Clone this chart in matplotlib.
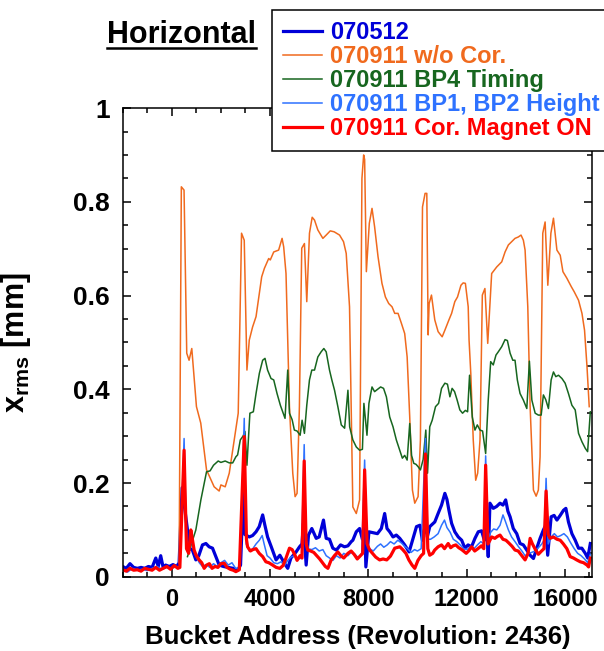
import matplotlib
matplotlib.use("Agg")
import matplotlib.pyplot as plt
from matplotlib.lines import Line2D
from matplotlib.ticker import MultipleLocator

plt.rcParams['font.family'] = 'Liberation Sans'
plt.rcParams['font.weight'] = 'bold'
plt.rcParams['mathtext.fontset'] = 'custom'
plt.rcParams['mathtext.rm'] = 'Liberation Sans:bold'
plt.rcParams['mathtext.bf'] = 'Liberation Sans:bold'

# --- 070512 (reference run) ---
x_0512 = [-2000, -1850, -1700, -1550, -1400, -1250, -1100, -950, -800, -650, -550, -450, -350, -250,
          -100, 50, 200, 300, 420, 500, 640, 740, 840, 980, 1100, 1250, 1390, 1520, 1660, 1795, 1930,
          2100, 2300, 2500, 2680, 2800, 2920, 2980, 3155, 3290, 3430, 3560, 3700, 3790, 3900, 4050,
          4245, 4400, 4585, 4720, 4850, 5060, 5200, 5300, 5360, 5470, 5565, 5700, 5880, 6000, 6175,
          6285, 6420, 6555, 6700, 6870, 7030, 7170, 7305, 7370, 7510, 7645, 7760, 7850, 7900, 8025,
          8200, 8370, 8530, 8665, 8760, 8870, 9005, 9140, 9280, 9480, 9660, 9800, 9960, 10100, 10200,
          10280, 10340, 10400, 10500, 10705, 10840, 10980, 11115, 11200, 11280, 11390, 11520, 11660,
          11800, 11930, 12060, 12200, 12340, 12475, 12610, 12720, 12800, 12880, 12950, 13085, 13220,
          13360, 13480, 13590, 13680, 13770, 13900, 14040, 14175, 14310, 14450, 14585, 14720, 14855,
          14990, 15125, 15220, 15300, 15440, 15560, 15675, 15810, 15945, 16040, 16145, 16285, 16420,
          16555, 16690, 16830, 16930, 17035]
y_0512 = [0.022, 0.018, 0.028, 0.020, 0.018, 0.020, 0.018, 0.022, 0.020, 0.040, 0.022, 0.045, 0.020, 0.025,
          0.022, 0.026, 0.022, 0.030, 0.190, 0.157, 0.100, 0.060, 0.057, 0.036, 0.045, 0.068, 0.071, 0.064,
          0.061, 0.043, 0.025, 0.022, 0.020, 0.018, 0.014, 0.025, 0.190, 0.090, 0.085, 0.088, 0.096, 0.107,
          0.132, 0.110, 0.085, 0.064, 0.036, 0.046, 0.029, 0.018, 0.040, 0.053, 0.064, 0.070, 0.114, 0.025,
          0.089, 0.103, 0.082, 0.085, 0.121, 0.082, 0.080, 0.061, 0.057, 0.068, 0.064, 0.066, 0.075, 0.078,
          0.096, 0.103, 0.080, 0.120, 0.021, 0.096, 0.094, 0.092, 0.103, 0.135, 0.103, 0.096, 0.085, 0.089,
          0.082, 0.068, 0.053, 0.078, 0.107, 0.110, 0.078, 0.100, 0.120, 0.085, 0.107, 0.117, 0.135, 0.153,
          0.178, 0.165, 0.142, 0.114, 0.096, 0.085, 0.078, 0.061, 0.068, 0.064, 0.082, 0.096, 0.098, 0.078,
          0.120, 0.043, 0.157, 0.146, 0.150, 0.157, 0.153, 0.164, 0.140, 0.128, 0.103, 0.092, 0.071, 0.068,
          0.057, 0.046, 0.039, 0.061, 0.082, 0.100, 0.110, 0.046, 0.128, 0.131, 0.121, 0.131, 0.142, 0.146,
          0.117, 0.092, 0.078, 0.061, 0.061, 0.050, 0.040, 0.071]

# --- 070911 without correction ---
x_wo = [300, 390, 500, 610, 705, 815, 1005, 1180, 1415, 1725, 1930, 2000, 2175, 2340, 2540, 2705, 2840,
        2950, 3060, 3155, 3290, 3430, 3565, 3660, 3770, 3945, 4010, 4150, 4350, 4490, 4555, 4650, 4790,
        4925, 5020, 5100, 5195, 5290, 5400, 5495, 5605, 5715, 5810, 5945, 6150, 6285, 6450, 6610, 6830,
        6990, 7100, 7235, 7370, 7510, 7645, 7740, 7810, 7850, 7920, 8040, 8150, 8255, 8395, 8555, 8695,
        8830, 8965, 9075, 9210, 9345, 9480, 9580, 9685, 9795, 9890, 10025, 10120, 10205, 10310, 10380,
        10435, 10475, 10570, 10705, 10840, 11005, 11115, 11280, 11390, 11520, 11630, 11770, 11860, 11950,
        12065, 12100, 12170, 12270, 12370, 12450, 12545, 12640, 12745, 12860, 13020, 13225, 13430, 13565,
        13700, 13835, 13970, 14105, 14215, 14310, 14380, 14490, 14585, 14720, 14830, 14920, 14990, 15100,
        15195, 15305, 15430, 15535, 15675, 15810, 15920, 16080, 16260, 16380, 16555, 16695, 16800, 16900,
        16990]
y_wo = [0.030, 0.832, 0.825, 0.477, 0.462, 0.487, 0.363, 0.328, 0.228, 0.192, 0.183, 0.196, 0.192, 0.221,
        0.292, 0.349, 0.733, 0.718, 0.441, 0.505, 0.533, 0.555, 0.605, 0.640, 0.658, 0.679, 0.676, 0.693,
        0.697, 0.722, 0.704, 0.647, 0.363, 0.221, 0.171, 0.178, 0.363, 0.701, 0.711, 0.587, 0.733, 0.767,
        0.761, 0.740, 0.722, 0.729, 0.738, 0.736, 0.729, 0.715, 0.690, 0.576, 0.149, 0.135, 0.164, 0.850,
        0.900, 0.890, 0.651, 0.754, 0.786, 0.747, 0.683, 0.626, 0.597, 0.583, 0.576, 0.562, 0.562, 0.541,
        0.519, 0.469, 0.341, 0.185, 0.157, 0.171, 0.292, 0.789, 0.818, 0.818, 0.516, 0.583, 0.601, 0.548,
        0.523, 0.512, 0.526, 0.548, 0.562, 0.587, 0.597, 0.622, 0.627, 0.626, 0.576, 0.505, 0.434, 0.292,
        0.206, 0.221, 0.292, 0.601, 0.615, 0.498, 0.647, 0.661, 0.672, 0.693, 0.708, 0.715, 0.722, 0.725,
        0.729, 0.718, 0.697, 0.576, 0.363, 0.185, 0.172, 0.185, 0.256, 0.733, 0.757, 0.622, 0.733, 0.765,
        0.697, 0.686, 0.651, 0.637, 0.619, 0.608, 0.590, 0.562, 0.526, 0.448, 0.363]

# --- 070911 BP4 timing ---
x_bp4 = [640, 980, 1185, 1415, 1560, 1700, 1890, 2000, 2175, 2340, 2480, 2610, 2680, 2790, 2900, 2980,
         3060, 3180, 3320, 3430, 3565, 3700, 3795, 3900, 4040, 4150, 4285, 4420, 4515, 4610, 4720, 4790,
         4900, 4990, 5100, 5225, 5305, 5400, 5495, 5605, 5700, 5810, 5945, 6080, 6190, 6285, 6420, 6515,
         6625, 6760, 6900, 7035, 7170, 7240, 7370, 7510, 7645, 7760, 7820, 7945, 8025, 8150, 8255, 8380,
         8500, 8620, 8735, 8870, 9005, 9140, 9280, 9385, 9480, 9580, 9685, 9760, 9850, 9940, 10025, 10120,
         10230, 10340, 10410, 10500, 10600, 10735, 10860, 10980, 11115, 11220, 11320, 11410, 11510, 11615,
         11725, 11835, 11950, 12040, 12120, 12230, 12340, 12435, 12545, 12650, 12775, 12880, 12980, 13085,
         13195, 13290, 13430, 13565, 13660, 13770, 13880, 13970, 14065, 14175, 14310, 14450, 14555, 14655,
         14790, 14920, 15035, 15125, 15220, 15330, 15440, 15535, 15630, 15740, 15880, 16010, 16145, 16285,
         16420, 16555, 16695, 16830, 16925, 17035]
y_bp4 = [0.043, 0.100, 0.164, 0.224, 0.226, 0.238, 0.247, 0.244, 0.247, 0.243, 0.243, 0.256, 0.260, 0.292,
         0.300, 0.310, 0.238, 0.349, 0.352, 0.391, 0.434, 0.462, 0.466, 0.441, 0.423, 0.420, 0.391, 0.366,
         0.352, 0.338, 0.441, 0.349, 0.335, 0.313, 0.311, 0.302, 0.334, 0.306, 0.366, 0.420, 0.441, 0.441,
         0.469, 0.480, 0.487, 0.480, 0.441, 0.420, 0.398, 0.363, 0.324, 0.317, 0.398, 0.320, 0.292, 0.277,
         0.270, 0.272, 0.370, 0.302, 0.370, 0.405, 0.395, 0.400, 0.405, 0.402, 0.384, 0.341, 0.320, 0.292,
         0.270, 0.253, 0.259, 0.249, 0.327, 0.259, 0.242, 0.240, 0.235, 0.228, 0.250, 0.313, 0.221, 0.320,
         0.334, 0.363, 0.370, 0.402, 0.413, 0.411, 0.384, 0.402, 0.395, 0.377, 0.356, 0.349, 0.355, 0.352,
         0.430, 0.341, 0.313, 0.324, 0.313, 0.311, 0.263, 0.377, 0.459, 0.452, 0.473, 0.480, 0.491, 0.506,
         0.504, 0.477, 0.462, 0.462, 0.420, 0.391, 0.377, 0.359, 0.460, 0.377, 0.349, 0.345, 0.345, 0.388,
         0.378, 0.359, 0.420, 0.437, 0.427, 0.430, 0.423, 0.413, 0.391, 0.366, 0.356, 0.306, 0.288, 0.274,
         0.267, 0.352]

# --- 070911 BP1, BP2 height ---
x_bp12 = [-2000, -1800, -1600, -1400, -1200, -1000, -800, -600, -400, -200, 0, 200, 330, 502, 580, 640,
          750, 840, 980, 1120, 1250, 1400, 1550, 1700, 1850, 2000, 2150, 2300, 2450, 2600, 2780, 2950,
          3030, 3155, 3300, 3430, 3565, 3680, 3760, 3880, 4000, 4150, 4300, 4450, 4585, 4720, 4850, 5000,
          5150, 5280, 5390, 5460, 5550, 5700, 5850, 6000, 6150, 6285, 6420, 6560, 6700, 6850, 7000, 7170,
          7300, 7450, 7600, 7730, 7850, 7930, 8050, 8200, 8370, 8500, 8630, 8770, 8900, 9050, 9200, 9350,
          9480, 9600, 9740, 9880, 10000, 10150, 10325, 10420, 10530, 10680, 10840, 10980, 11100, 11200,
          11330, 11460, 11600, 11740, 11880, 12020, 12160, 12300, 12440, 12580, 12700, 12775, 12870, 12980,
          13100, 13230, 13360, 13480, 13580, 13700, 13830, 13970, 14100, 14250, 14380, 14520, 14650, 14780,
          14920, 15060, 15150, 15235, 15320, 15440, 15570, 15700, 15830, 15960, 16100, 16240, 16380, 16520,
          16660, 16800, 16930, 17035]
y_bp12 = [0.015, 0.010, 0.018, 0.014, 0.016, 0.013, 0.018, 0.022, 0.016, 0.020, 0.018, 0.022, 0.020, 0.295,
          0.120, 0.060, 0.080, 0.070, 0.045, 0.030, 0.022, 0.026, 0.020, 0.028, 0.022, 0.030, 0.035, 0.025,
          0.030, 0.018, 0.020, 0.338, 0.070, 0.055, 0.060, 0.070, 0.078, 0.088, 0.070, 0.045, 0.040, 0.030,
          0.028, 0.032, 0.024, 0.035, 0.042, 0.045, 0.038, 0.040, 0.282, 0.080, 0.060, 0.058, 0.062, 0.055,
          0.058, 0.045, 0.040, 0.035, 0.045, 0.040, 0.050, 0.045, 0.052, 0.048, 0.040, 0.050, 0.249, 0.070,
          0.060, 0.055, 0.065, 0.070, 0.063, 0.068, 0.075, 0.070, 0.078, 0.072, 0.065, 0.060, 0.052, 0.058,
          0.055, 0.060, 0.295, 0.080, 0.080, 0.085, 0.092, 0.110, 0.121, 0.105, 0.095, 0.080, 0.075, 0.068,
          0.060, 0.058, 0.065, 0.060, 0.068, 0.075, 0.070, 0.258, 0.080, 0.095, 0.102, 0.100, 0.110, 0.132,
          0.118, 0.100, 0.085, 0.075, 0.065, 0.055, 0.045, 0.050, 0.052, 0.055, 0.062, 0.070, 0.078, 0.210,
          0.070, 0.085, 0.092, 0.085, 0.088, 0.092, 0.085, 0.072, 0.060, 0.050, 0.045, 0.038, 0.030, 0.048]

# --- 070911 correction magnet ON ---
x_cor = [-2000, -1850, -1700, -1550, -1400, -1250, -1100, -950, -800, -650, -500, -350, -200, -50, 100, 250,
         330, 502, 600, 690, 775, 840, 910, 1000, 1115, 1220, 1320, 1420, 1530, 1640, 1760, 1880, 2000,
         2135, 2250, 2380, 2500, 2610, 2750, 2950, 3040, 3085, 3200, 3300, 3430, 3560, 3700, 3830, 3950,
         4105, 4250, 4400, 4530, 4650, 4790, 4900, 5000, 5100, 5220, 5300, 5390, 5470, 5535, 5650, 5780,
         5900, 6020, 6150, 6250, 6355, 6480, 6620, 6760, 6880, 7000, 7170, 7300, 7420, 7550, 7680, 7770,
         7850, 7950, 8055, 8170, 8300, 8460, 8600, 8750, 8900, 9075, 9280, 9400, 9530, 9650, 9780, 9890,
         10020, 10150, 10250, 10325, 10420, 10500, 10620, 10700, 10840, 10980, 11100, 11250, 11350, 11450,
         11560, 11680, 11800, 11985, 12100, 12200, 12330, 12460, 12600, 12700, 12775, 12870, 13020, 13150,
         13250, 13360, 13480, 13600, 13720, 13850, 13970, 14100, 14250, 14380, 14500, 14585, 14680, 14800,
         14920, 15050, 15150, 15235, 15320, 15400, 15530, 15680, 15810, 15940, 16080, 16215, 16350, 16480,
         16625, 16760, 16900, 16965, 17035]
y_cor = [0.015, 0.012, 0.018, 0.014, 0.015, 0.012, 0.018, 0.016, 0.014, 0.020, 0.014, 0.018, 0.022, 0.016,
         0.024, 0.018, 0.020, 0.270, 0.060, 0.050, 0.100, 0.080, 0.057, 0.045, 0.036, 0.030, 0.018, 0.025,
         0.028, 0.018, 0.022, 0.020, 0.028, 0.029, 0.020, 0.016, 0.014, 0.011, 0.015, 0.299, 0.080, 0.064,
         0.055, 0.058, 0.060, 0.050, 0.043, 0.032, 0.030, 0.025, 0.020, 0.018, 0.024, 0.040, 0.061, 0.058,
         0.048, 0.035, 0.045, 0.040, 0.247, 0.070, 0.057, 0.055, 0.052, 0.045, 0.038, 0.029, 0.022, 0.018,
         0.035, 0.045, 0.053, 0.045, 0.040, 0.050, 0.055, 0.048, 0.038, 0.045, 0.050, 0.228, 0.070, 0.057,
         0.050, 0.042, 0.036, 0.038, 0.036, 0.044, 0.061, 0.064, 0.058, 0.050, 0.036, 0.025, 0.018, 0.035,
         0.045, 0.050, 0.262, 0.060, 0.046, 0.050, 0.057, 0.064, 0.068, 0.060, 0.071, 0.062, 0.066, 0.068,
         0.062, 0.058, 0.050, 0.056, 0.064, 0.055, 0.060, 0.066, 0.060, 0.238, 0.070, 0.085, 0.082, 0.086,
         0.089, 0.080, 0.078, 0.072, 0.065, 0.057, 0.055, 0.045, 0.036, 0.050, 0.082, 0.070, 0.058, 0.048,
         0.055, 0.060, 0.183, 0.090, 0.082, 0.085, 0.080, 0.078, 0.070, 0.060, 0.043, 0.040, 0.036, 0.032,
         0.030, 0.025, 0.021, 0.040]

series = [
    (x_0512, y_0512, '070512', '#0000D8', 2.3),
    (x_wo, y_wo, '070911 w/o Cor.', '#F06A1E', 1.1),
    (x_bp4, y_bp4, '070911 BP4 Timing', '#17661F', 1.1),
    (x_bp12, y_bp12, '070911 BP1, BP2 Height', '#2E72FF', 1.1),
    (x_cor, y_cor, '070911 Cor. Magnet ON', '#FF0000', 2.3),
]

fig = plt.figure(figsize=(6.04, 6.51), dpi=100)
ax = fig.add_axes([0.203, 0.114, 0.777, 0.720])

for xs, ys, name, col, lw in series:
    ax.plot(xs, ys, color=col, lw=lw, label=name)

ax.set_xlim(-2000, 17100)
ax.set_ylim(0, 1)
ax.xaxis.set_major_locator(MultipleLocator(4000))
ax.xaxis.set_minor_locator(MultipleLocator(1000))
ax.yaxis.set_major_locator(MultipleLocator(0.2))
ax.yaxis.set_minor_locator(MultipleLocator(0.05))
ax.yaxis.set_major_formatter(plt.FuncFormatter(lambda v, p: f"{v:g}"))
ax.tick_params(which='both', direction='in', top=True, right=True, width=1.1)
ax.tick_params(which='major', length=6)
ax.tick_params(which='minor', length=3.5)
ax.tick_params(axis='x', which='major', labelsize=17, pad=8)
ax.tick_params(axis='y', which='major', labelsize=19, pad=9)
for s in ax.spines.values():
    s.set_linewidth(1.1)

ax.set_xlabel('Bucket Address (Revolution: 2436)', fontsize=18.5, fontweight='bold')
ax.xaxis.set_label_coords(0.5, -0.102)
ax.set_ylabel(r'x$_{\mathbf{rms}}$ [mm]', fontsize=22, fontweight='bold')
ax.yaxis.set_label_coords(-0.19, 0.5)

leg = fig.legend(loc='upper left', bbox_to_anchor=(272 / 604, 1 - 10 / 651), fontsize=17,
                 labelcolor='linecolor', frameon=True, fancybox=False, edgecolor='black',
                 framealpha=1, handlelength=1.65, handletextpad=0.33, labelspacing=0.04,
                 borderpad=0.47, borderaxespad=0)
leg.get_frame().set_linewidth(1.1)
for t in leg.get_texts():
    t.set_fontweight('bold')

title = fig.text(107 / 604, 1 - 43 / 651, 'Horizontal', fontsize=22, fontweight='bold',
                 ha='left', va='baseline')
fig.canvas.draw()
bb = title.get_window_extent().transformed(fig.transFigure.inverted())
fig.add_artist(Line2D([bb.x0, bb.x1], [1 - 48 / 651] * 2, color='black', lw=1.8,
                      transform=fig.transFigure))

fig.savefig('out.png', dpi=100)
